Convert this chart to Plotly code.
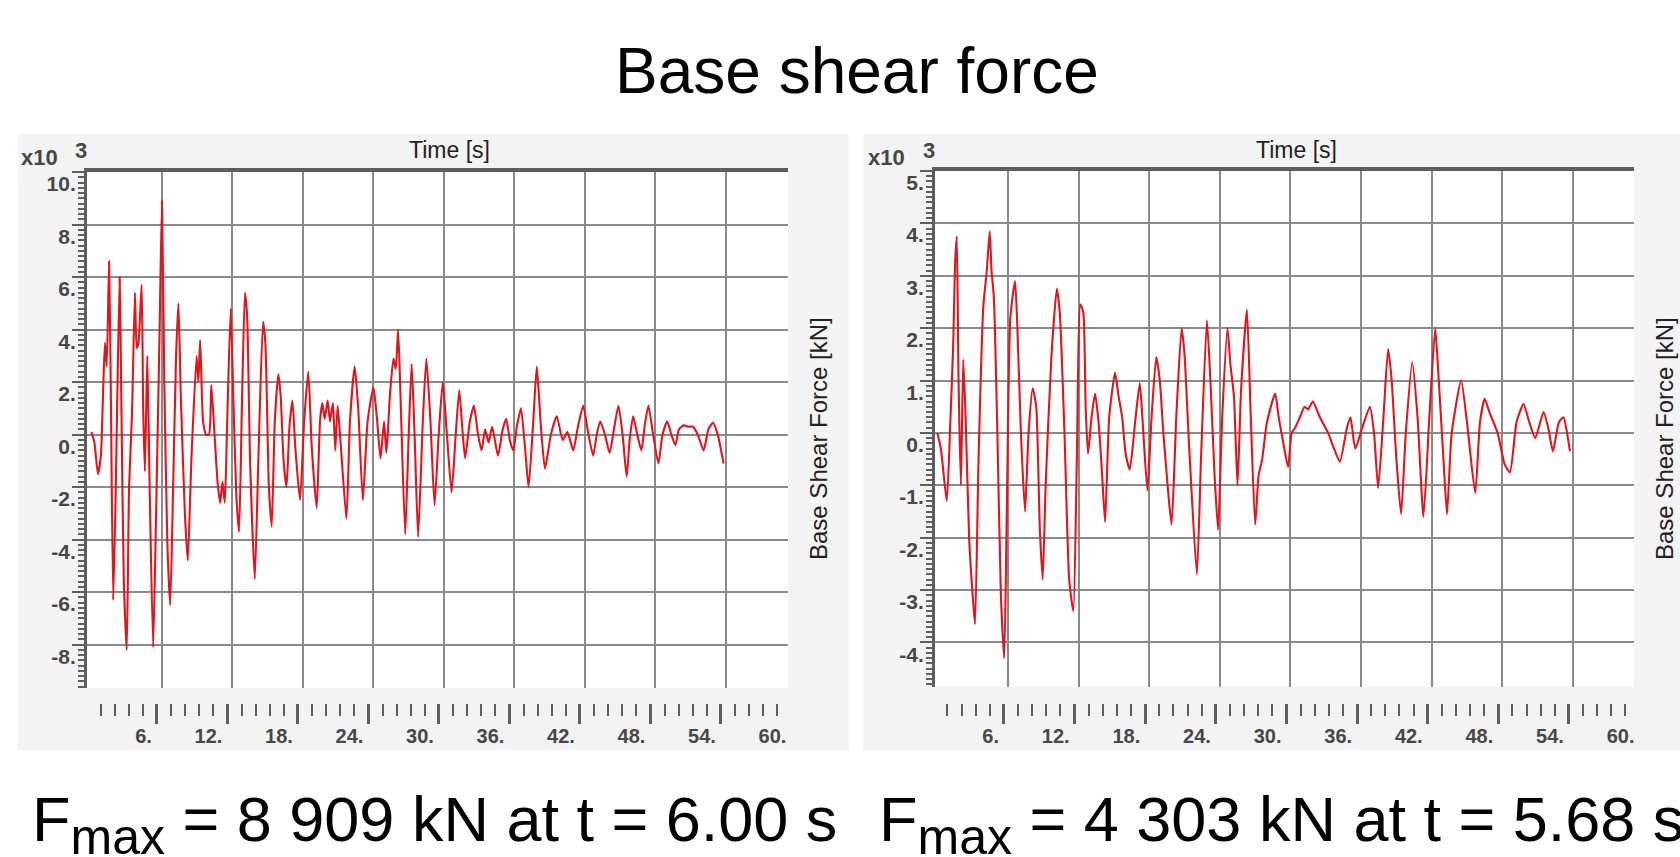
import plotly.graph_objects as go

W, H = 1680, 857

# ---------------- data (base shear force, kN x 10^3) ----------------
t_left = [0.0, 0.25, 0.55, 0.8, 1.0, 1.15, 1.3, 1.5, 1.65, 1.85, 2.05, 2.2, 2.4, 2.55, 2.75, 3.0,
          3.2, 3.45, 3.7, 3.85, 4.0, 4.27, 4.4, 4.55, 4.75, 4.95, 5.25, 5.5, 5.8, 6.0, 6.2, 6.45,
          6.7, 6.95, 7.2, 7.4, 7.6, 7.95, 8.2, 8.5, 8.95, 9.1, 9.25, 9.5, 9.75, 10.0, 10.2, 10.5,
          10.75, 10.95, 11.15, 11.35, 11.55, 11.85, 12.1, 12.35, 12.56, 12.8, 13.06, 13.25, 13.5,
          13.9, 14.2, 14.6, 14.8, 15.1, 15.34, 15.6, 15.9, 16.1, 16.35, 16.6, 16.85, 17.1, 17.35,
          17.75, 18.1, 18.45, 18.75, 19.17, 19.45, 19.65, 19.85, 20.1, 20.3, 20.55, 20.75, 20.95,
          21.2, 21.7, 22.0, 22.4, 22.7, 23.1, 23.5, 24.0, 24.3, 24.6, 24.9, 25.1, 25.4, 25.7, 25.9,
          26.1, 26.3, 26.7, 27.0, 27.25, 27.5, 27.8, 28.2, 28.5, 28.85, 29.2, 29.55, 29.9, 30.25,
          30.65, 31.0, 31.3, 31.55, 31.8, 32.2, 32.55, 32.9, 33.2, 33.5, 33.8, 34.1, 34.6, 35.0,
          35.3, 35.6, 35.9, 36.2, 36.55, 36.9, 37.2, 37.6, 37.9, 38.25, 38.6, 39.1, 39.6, 40.1,
          40.5, 41.0, 41.4, 41.85, 42.3, 42.7, 43.0, 43.3, 43.7, 44.1, 44.5, 44.85, 45.2, 45.55,
          45.8, 46.1, 46.45, 46.8, 47.1, 47.4, 47.8, 48.25, 48.6, 49.0, 49.35, 49.7, 50.0, 50.4,
          50.8, 51.2, 51.6, 52.1, 52.5, 52.9, 53.3, 53.8]
f_left = [0.1, -0.3, -1.5, -0.8, 1.8, 3.5, 2.6, 6.6, 1.5, -6.3, -2.5, 1.5, 6.0, 1.0, -5.5, -8.2,
          -2.0, 0.8, 5.4, 3.3, 3.5, 5.7, 1.0, -1.4, 3.0, -2.0, -8.1, -3.0, 4.0, 8.9, 2.0, -4.0,
          -6.5, -2.0, 3.0, 5.0, 1.5, -3.0, -4.8, -1.0, 3.0, 2.0, 3.6, 0.5, 0.0, 0.0, 1.9, -0.2,
          -1.9, -2.6, -1.8, -2.6, 0.5, 4.8, 1.0, -2.5, -3.7, 1.0, 5.4, 4.5, -1.0,
          -5.5, -1.0, 4.3, 3.5, -2.0, -3.5, 0.5, 2.3, 1.5, -1.0, -2.0, 0.3, 1.3, -0.5,
          -2.5, 0.5, 2.4, -0.5, -2.8, 0.5, 1.2, 0.6, 1.3, 0.5, 1.2, -0.6, 1.1,
          -0.3, -3.2, 0.5, 2.6, 1.0, -2.5, 0.5, 1.8, 0.6, -0.9, 0.5, -0.7, 1.5, 2.9, 2.5,
          4.0, 1.5, -3.8, 0.0, 2.7, 0.0, -3.9, 0.5, 2.9, 0.5, -2.7, 0.0, 2.0, 0.0,
          -2.2, 0.0, 1.7, 0.3, -0.9, 0.5, 1.1, 0.0, -0.6, 0.2, -0.3, 0.3, -0.8, 0.2,
          0.6, -0.2, -0.6, 0.3, 1.0, -0.5, -2.0, 0.5, 2.6, 0.3, -1.3, 0.0, 0.7, -0.2,
          0.1, -0.6, 0.3, 1.1, 0.0, -0.8, 0.0, 0.5, 0.0, -0.7, 0.3, 1.1, 0.0, -1.6,
          -0.2, 0.7, 0.0, -0.6, 0.4, 1.1, 0.0, -1.1, 0.0, 0.5, 0.0, -0.4, 0.2, 0.35,
          0.3, 0.3, 0.0, -0.6, 0.2, 0.45, 0.0, -1.1]

t_right = [0.0, 0.3, 0.8, 1.1, 1.35, 1.5, 1.65, 1.8, 2.0, 2.2, 2.4, 2.7, 3.0, 3.2, 3.5, 3.9, 4.2,
           4.45, 4.6, 4.8, 5.1, 5.4, 5.68, 5.9, 6.2, 6.6, 6.8, 7.1, 7.45, 7.75, 8.1, 8.4, 8.7,
           8.95, 9.2, 9.7, 10.15, 10.4, 10.8, 11.2, 11.55, 11.85, 12.15, 12.4, 12.6, 12.8, 13.1,
           13.4, 13.7, 14.0, 14.25, 14.6, 15.1, 15.4, 15.7, 16.0, 16.35, 16.8, 17.2, 17.5, 17.85,
           18.2, 18.6, 18.9, 19.2, 19.6, 19.9, 20.3, 20.75, 21.0, 21.4, 22.05, 22.4, 22.9, 23.2,
           23.55, 23.85, 24.2, 24.65, 24.9, 25.2, 25.5, 25.8, 26.3, 26.6, 27.0, 27.3, 27.6, 28.0,
           28.7, 29.0, 29.4, 29.8, 30.1, 30.4, 30.8, 31.2, 31.5, 31.9, 32.5, 33.2, 33.7, 34.2,
           34.8, 35.1, 35.5, 36.1, 36.75, 37.1, 37.45, 37.9, 38.3, 38.6, 39.0, 39.4, 39.8, 40.35,
           40.8, 41.3, 41.8, 42.3, 42.6, 43.0, 43.3, 43.7, 44.5, 45.0, 45.7, 46.1, 46.5, 46.9,
           47.6, 48.2, 48.65, 49.2, 49.8, 50.3, 50.8, 51.5, 51.9, 52.3, 52.8, 53.2, 53.5, 53.75]
f_right = [0.0, -0.3, -1.3, 0.2, 1.7, 3.2, 3.75, 1.0, -1.0, 1.4, 0.3, -2.0, -3.1, -3.65, -0.5, 2.4, 3.1,
           3.85, 3.1, 2.6, 0.0, -3.1, -4.3, -1.5, 2.2, 2.9, 2.0, 0.0, -1.5, 0.0, 0.85, 0.5, -1.8,
           -2.8, -1.0, 1.5, 2.75, 2.3, 0.0, -2.8, -3.4, -0.5, 2.45, 2.3, 0.5, -0.4, 0.3,
           0.75, 0.2, -0.8, -1.7, 0.3, 1.15, 0.7, 0.3, -0.4, -0.7, 0.2, 0.95, 0.0, -1.1,
           0.3, 1.45, 1.0, 0.0, -1.1, -1.75, 0.3, 2.0, 1.5, -0.3, -2.7, -0.5, 2.15, 1.0,
           -0.8, -1.85, 0.3, 2.0, 1.3, 0.7, -1.0, 0.8, 2.35, 0.5, -1.75, -0.8, -0.5, 0.2,
           0.75, 0.3, -0.2, -0.65, 0.0, 0.1, 0.3, 0.5, 0.45, 0.6, 0.3, 0.0, -0.3, -0.55,
           0.1, 0.3, -0.3, 0.1, 0.5, 0.0, -1.05, 0.3, 1.6, 1.0, -0.5, -1.55, 0.0, 1.35,
           0.3, -1.6, 0.3, 2.0, 1.0, -0.5, -1.55, 0.0, 1.0, 0.2, -1.15, 0.2, 0.65, 0.4,
           0.0, -0.6, -0.75, 0.2, 0.55, 0.2, -0.1, 0.4, 0.1, -0.35, 0.2, 0.3, 0.0, -0.35]

x_grid_vals = [6, 12, 18, 24, 30, 36, 42, 48, 54]
x_label_vals = [6, 12, 18, 24, 30, 36, 42, 48, 54, 60]
x_label_text = ["6.", "12.", "18.", "24.", "30.", "36.", "42.", "48.", "54.", "60."]
y_left_vals = [-8, -6, -4, -2, 0, 2, 4, 6, 8, 10]
y_left_text = ["-8.", "-6.", "-4.", "-2.", "0.", "2.", "4.", "6.", "8.", "10."]
y_right_vals = [-4, -3, -2, -1, 0, 1, 2, 3, 4, 5]
y_right_text = ["-4.", "-3.", "-2.", "-1.", "0.", "1.", "2.", "3.", "4.", "5."]

title_text = "Base shear force"
x_title = "Time [s]"
y_title = "Base Shear Force [kN]"
fmax_left = 'F<sub><span style="font-size:50px">max</span></sub> = 8 909 kN at t = 6.00 s'
fmax_right = 'F<sub><span style="font-size:50px">max</span></sub> = 4 303 kN at t = 5.68 s'

# ---------------- helpers ----------------
def px(x):
    return x / W

def py(y):
    return 1 - y / H

FONT = "Liberation Sans, Arial, sans-serif"
GRID = "#8a8a8a"
AXC = "#5e5e5e"
LBL = "#474747"
LINE = "#e3141c"

fig = go.Figure()

charts = [
    dict(X0=87, X1=788, Y0=172, Y1=688, pps=11.75, t_at_X0=-0.38, tick_shift=0.43,
         yr=[-9.65, 10.0], yv=y_left_vals, yt=y_left_text, ymin=0.2,
         t=t_left, f=f_left, ids=(1, 3, 4), panel=(18, 849)),
    dict(X0=935, X1=1634, Y0=171, Y1=687, pps=11.77, t_at_X0=-0.2, tick_shift=0.34,
         yr=[-4.85, 5.0], yv=y_right_vals, yt=y_right_text, ymin=0.1,
         t=t_right, f=f_right, ids=(2, 5, 6), panel=(863, 1690)),
]

layout = dict(
    width=W, height=H, margin=dict(l=0, r=0, t=0, b=0),
    paper_bgcolor="white", plot_bgcolor="rgba(0,0,0,0)",
    showlegend=False, font=dict(family=FONT, color="#222"),
)
shapes = []
annotations = []
xtickfont = dict(size=20, color=LBL, family=FONT, weight="bold")
ytickfont = dict(size=21, color=LBL, family=FONT, weight="bold")

for c in charts:
    m, a, b = c["ids"]
    mx = "x" if m == 1 else f"x{m}"
    my = "y" if m == 1 else f"y{m}"
    ax_key = "xaxis" if m == 1 else f"xaxis{m}"
    ay_key = "yaxis" if m == 1 else f"yaxis{m}"
    xr = [c["t_at_X0"], c["t_at_X0"] + (c["X1"] - c["X0"]) / c["pps"]]

    # gray panel and white plotting area
    shapes.append(dict(type="rect", xref="paper", yref="paper", layer="below",
                       x0=px(c["panel"][0]), x1=px(c["panel"][1]), y0=py(750), y1=py(134),
                       fillcolor="#f3f3f3", line=dict(width=0)))
    shapes.append(dict(type="rect", xref=f"{mx} domain", yref=f"{my} domain", layer="below",
                       x0=0, x1=1, y0=0, y1=1, fillcolor="white", line=dict(width=0)))

    fig.add_trace(go.Scatter(x=c["t"], y=c["f"], mode="lines", xaxis=mx, yaxis=my,
                             line=dict(color=LINE, width=2.1, shape="spline", smoothing=0.55),
                             hoverinfo="x+y"))

    layout[ax_key] = dict(domain=[px(c["X0"]), px(c["X1"])], anchor=my, side="top",
                          range=xr, tickmode="array", tickvals=x_grid_vals,
                          showticklabels=False, ticks="", showgrid=True, gridcolor=GRID,
                          gridwidth=2, showline=True, linewidth=4, linecolor=AXC,
                          zeroline=False, fixedrange=True)
    layout[ay_key] = dict(domain=[py(c["Y1"]), py(c["Y0"])], anchor=mx, range=c["yr"],
                          tickmode="array", tickvals=c["yv"], ticktext=c["yt"],
                          ticks="outside", ticklen=12, tickwidth=2, tickcolor=AXC,
                          showline=True, linewidth=3, linecolor=AXC, showgrid=True,
                          gridcolor=GRID, gridwidth=2, zeroline=False,
                          ticklabelposition="outside bottom", ticklabelstandoff=4,
                          ticklabelshift=-4,
                          tickfont=ytickfont,
                          minor=dict(dtick=c["ymin"], tick0=0, ticks="outside", ticklen=6,
                                     tickwidth=1.5, tickcolor=AXC, showgrid=False),
                          fixedrange=True)

    # bottom tick-mark axis (no labels)
    tr = [xr[0] + c["tick_shift"], xr[1] + c["tick_shift"]]
    fig.add_trace(go.Scatter(x=[], y=[], xaxis=f"x{a}", yaxis=f"y{a}", hoverinfo="skip"))
    layout[f"xaxis{a}"] = dict(domain=[px(c["X0"]), px(c["X1"])], anchor=f"y{a}",
                               range=tr, tickmode="array", tickvals=x_grid_vals,
                               ticks="outside", ticklen=20, tickwidth=2.5, tickcolor=AXC,
                               showticklabels=False, showgrid=False, showline=False,
                               zeroline=False, fixedrange=True,
                               minor=dict(dtick=1.2, tick0=0, ticks="outside", ticklen=12,
                                          tickwidth=2, tickcolor=AXC, showgrid=False))
    layout[f"yaxis{a}"] = dict(domain=[py(703), py(703) + 0.01], anchor=f"x{a}",
                               visible=False, fixedrange=True)

    # bottom label axis
    Xl = c["X1"] + 14
    lr = [tr[0], tr[0] + (Xl - c["X0"]) / c["pps"]]
    fig.add_trace(go.Scatter(x=[], y=[], xaxis=f"x{b}", yaxis=f"y{b}", hoverinfo="skip"))
    layout[f"xaxis{b}"] = dict(domain=[px(c["X0"]), px(Xl)], anchor=f"y{b}",
                               range=lr, tickmode="array", tickvals=x_label_vals,
                               ticktext=x_label_text, ticks="", showgrid=False,
                               showline=False, zeroline=False,
                               ticklabelposition="outside left", ticklabelshift=-5,
                               tickfont=xtickfont,
                               fixedrange=True)
    layout[f"yaxis{b}"] = dict(domain=[py(722), py(722) + 0.01], anchor=f"x{b}",
                               visible=False, fixedrange=True)

# texts
def ann(text, X, Y, size, color="#222", xanchor="center", yanchor="middle", angle=0,
        weight="normal"):
    annotations.append(dict(text=text, x=px(X), y=py(Y), xref="paper", yref="paper",
                            showarrow=False, xanchor=xanchor, yanchor=yanchor,
                            textangle=angle,
                            font=dict(size=size, color=color, family=FONT, weight=weight)))

ann(title_text, 857, 71, 64, color="black")
ann(fmax_left, 30, 824, 63, color="black", xanchor="left")
ann(fmax_right, 877, 824, 63, color="black", xanchor="left")
ann(x_title, 449, 150, 23)
ann(x_title, 1296, 150, 23)
ann(y_title, 818, 439, 24, angle=-90)
ann(y_title, 1664, 439, 24, angle=-90)
for x10X, supX in ((39, 81), (886, 929)):
    ann("x10", x10X, 157, 22, color=LBL, weight="bold")
    ann("3", supX, 150, 22, color=LBL, weight="bold")

layout["shapes"] = shapes
layout["annotations"] = annotations
fig.update_layout(**layout)
fig.write_html("out.html")
